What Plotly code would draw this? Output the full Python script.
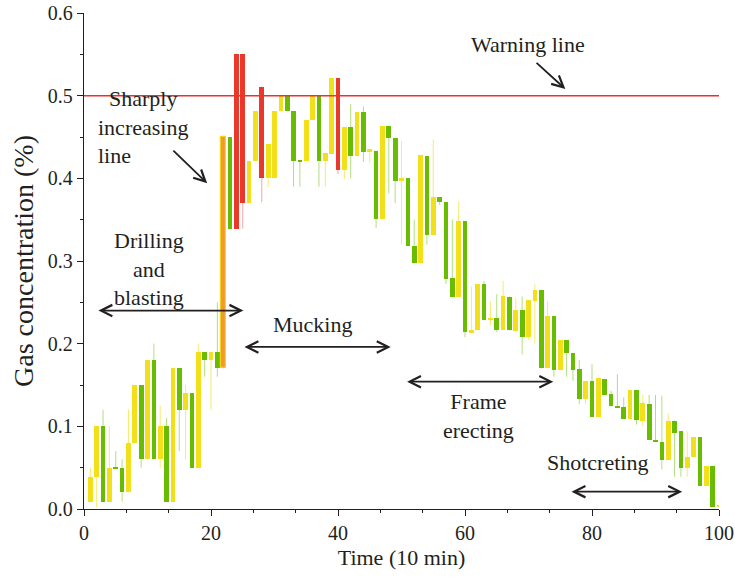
import plotly.graph_objects as go

# Time axis: one candle per 10-minute interval
time = list(range(1, 101))

# Gas concentration (%) per interval: open, close, high, low
open_ = [0.009, 0.039, 0.100, 0.009, 0.050, 0.050, 0.020, 0.080, 0.150, 0.060,
         0.180, 0.060, 0.100, 0.009, 0.170, 0.120, 0.140, 0.050, 0.190, 0.180,
         0.190, 0.170, 0.450, 0.339, 0.551, 0.370, 0.421, 0.511, 0.400, 0.400,
         0.481, 0.499, 0.481, 0.422, 0.421, 0.471, 0.499, 0.421, 0.430, 0.521,
         0.410, 0.462, 0.427, 0.480, 0.433, 0.433, 0.351, 0.463, 0.449, 0.397,
         0.400, 0.318, 0.297, 0.427, 0.331, 0.377, 0.371, 0.280, 0.257, 0.348,
         0.214, 0.216, 0.272, 0.229, 0.231, 0.217, 0.257, 0.215, 0.241, 0.208,
         0.252, 0.265, 0.170, 0.233, 0.168, 0.204, 0.189, 0.169, 0.133, 0.155,
         0.111, 0.157, 0.139, 0.125, 0.123, 0.109, 0.144, 0.107, 0.127, 0.084,
         0.081, 0.059, 0.107, 0.094, 0.049, 0.063, 0.087, 0.028, 0.052, 0.002]
close = [0.039, 0.100, 0.009, 0.050, 0.049, 0.020, 0.080, 0.150, 0.060, 0.180,
         0.060, 0.100, 0.009, 0.170, 0.120, 0.140, 0.050, 0.190, 0.180, 0.190,
         0.170, 0.450, 0.339, 0.551, 0.370, 0.421, 0.481, 0.400, 0.441, 0.481,
         0.499, 0.481, 0.421, 0.420, 0.471, 0.499, 0.421, 0.431, 0.521, 0.410,
         0.462, 0.427, 0.480, 0.432, 0.435, 0.351, 0.463, 0.449, 0.397, 0.400,
         0.318, 0.297, 0.428, 0.331, 0.378, 0.371, 0.278, 0.257, 0.348, 0.214,
         0.216, 0.272, 0.229, 0.231, 0.217, 0.258, 0.216, 0.241, 0.208, 0.253,
         0.265, 0.170, 0.233, 0.168, 0.204, 0.189, 0.168, 0.133, 0.155, 0.111,
         0.158, 0.138, 0.124, 0.123, 0.109, 0.144, 0.108, 0.128, 0.084, 0.081,
         0.059, 0.107, 0.092, 0.049, 0.063, 0.087, 0.028, 0.052, 0.002, 0.005]
high = [0.050, 0.100, 0.120, 0.100, 0.070, 0.060, 0.120, 0.150, 0.150, 0.180,
        0.200, 0.125, 0.110, 0.170, 0.170, 0.150, 0.140, 0.200, 0.190, 0.190,
        0.250, 0.450, 0.450, 0.551, 0.551, 0.421, 0.481, 0.511, 0.441, 0.481,
        0.499, 0.499, 0.481, 0.422, 0.471, 0.499, 0.499, 0.431, 0.521, 0.521,
        0.462, 0.490, 0.480, 0.487, 0.435, 0.433, 0.463, 0.463, 0.449, 0.445,
        0.400, 0.350, 0.428, 0.427, 0.447, 0.377, 0.371, 0.350, 0.372, 0.348,
        0.269, 0.272, 0.276, 0.251, 0.260, 0.276, 0.257, 0.255, 0.257, 0.253,
        0.272, 0.265, 0.251, 0.233, 0.204, 0.204, 0.189, 0.180, 0.155, 0.175,
        0.159, 0.157, 0.143, 0.163, 0.135, 0.144, 0.144, 0.138, 0.138, 0.138,
        0.137, 0.116, 0.107, 0.094, 0.094, 0.087, 0.087, 0.052, 0.052, 0.005]
low = [0.009, 0.002, 0.009, 0.009, 0.049, 0.009, 0.020, 0.080, 0.050, 0.060,
       0.060, 0.050, 0.009, 0.009, 0.070, 0.060, 0.050, 0.050, 0.160, 0.120,
       0.160, 0.170, 0.339, 0.339, 0.339, 0.370, 0.421, 0.371, 0.389, 0.400,
       0.481, 0.481, 0.390, 0.390, 0.421, 0.471, 0.390, 0.390, 0.430, 0.405,
       0.399, 0.400, 0.427, 0.420, 0.419, 0.340, 0.351, 0.382, 0.370, 0.320,
       0.318, 0.297, 0.297, 0.320, 0.331, 0.368, 0.272, 0.257, 0.257, 0.208,
       0.214, 0.216, 0.229, 0.222, 0.214, 0.217, 0.216, 0.215, 0.187, 0.205,
       0.200, 0.170, 0.170, 0.160, 0.168, 0.160, 0.155, 0.127, 0.127, 0.111,
       0.111, 0.138, 0.124, 0.123, 0.109, 0.109, 0.102, 0.100, 0.084, 0.081,
       0.048, 0.059, 0.039, 0.039, 0.039, 0.063, 0.028, 0.028, 0.002, 0.002]

# Intervals that broke through the warning level, and the sharp rise before them
over_limit = [24, 25, 28, 40]
sharp_rise = [22]
WARNING_LEVEL = 0.5

YELLOW, GREEN, RED, ORANGE = "#F2E01A", "#68BD00", "#E8392A", "#F29A2E"
WICK = {YELLOW: "rgba(242,224,26,0.65)", GREEN: "rgba(104,189,0,0.5)",
        RED: "rgba(232,57,42,0.45)", ORANGE: "rgba(242,154,46,0.6)"}

colors = []
for t, o, c in zip(time, open_, close):
    if t in over_limit:
        colors.append(RED)
    elif t in sharp_rise:
        colors.append(ORANGE)
    else:
        colors.append(YELLOW if c > o else GREEN)

fig = go.Figure()

# Wicks (high-low), grouped by colour
for col in [YELLOW, GREEN, RED, ORANGE]:
    wx, wy = [], []
    for t, h, l, cc in zip(time, high, low, colors):
        if cc == col:
            wx += [t, t, None]
            wy += [l, h, None]
    fig.add_trace(go.Scatter(x=wx, y=wy, mode="lines", hoverinfo="skip",
                             line=dict(color=WICK[col], width=1), showlegend=False))

# Candle bodies (open-close)
base = [min(o, c) for o, c in zip(open_, close)]
height = [max(abs(c - o), 0.002) for o, c in zip(open_, close)]
line_w = [1.2 if t in sharp_rise else 0 for t in time]
line_c = ["#F5D51C" if t in sharp_rise else "rgba(0,0,0,0)" for t in time]
fig.add_trace(go.Bar(x=time, y=height, base=base, width=0.74,
                     marker=dict(color=colors, line=dict(width=line_w, color=line_c)),
                     showlegend=False))

fig.add_hline(y=WARNING_LEVEL, line=dict(color="#E8322A", width=1.5))

FONT = "Liberation Serif"
INK = "#231F20"
ann_font = dict(family=FONT, size=22, color=INK)
arrow_kw = dict(showarrow=True, arrowcolor=INK, arrowwidth=1.8,
                arrowhead=5, arrowsize=1.25, xref="x", yref="y", axref="x", ayref="y")

annotations = [
    dict(x=69.9, y=0.562, text="Warning line", showarrow=False, font=ann_font),
    dict(x=75.8, y=0.508, ax=70.8, ay=0.543, **arrow_kw),
    dict(x=1.9, y=0.462, text="&nbsp;&nbsp;Sharply<br>increasing<br>line", showarrow=False,
         font=ann_font, align="left", xanchor="left"),
    dict(x=19.4, y=0.394, ax=13.6, ay=0.437, **arrow_kw),
    dict(x=10.2, y=0.290, text="Drilling<br>and<br>blasting", showarrow=False,
         font=ann_font, align="center"),
    dict(x=36.0, y=0.223, text="Mucking", showarrow=False, font=ann_font),
    dict(x=62.1, y=0.113, text="Frame<br>erecting", showarrow=False, font=ann_font),
    dict(x=80.8, y=0.056, text="Shotcreting", showarrow=False, font=ann_font),
]
# Double-headed phase spans
for x0, x1, yv in [(1.8, 25.1, 0.240), (24.8, 48.3, 0.196),
                   (50.4, 73.9, 0.154), (76.3, 94.2, 0.021)]:
    annotations.append(dict(x=x1, y=yv, ax=x0, ay=yv, arrowside="end+start", **arrow_kw))

axis_common = dict(showline=True, linecolor=INK, linewidth=1.3, ticks="outside",
                   ticklen=6, tickwidth=1.3, tickcolor=INK, showgrid=False,
                   zeroline=False, automargin=False,
                   tickfont=dict(family=FONT, size=20, color=INK))

fig.update_layout(
    width=735, height=578,
    margin=dict(l=84, r=16, t=13, b=69),
    plot_bgcolor="white", paper_bgcolor="white",
    barmode="overlay", bargap=0,
    annotations=annotations,
    xaxis=dict(range=[0, 100], tick0=0, dtick=20,
               minor=dict(dtick=20 / 3, ticklen=3, tickwidth=1.2, tickcolor=INK, ticks="outside"),
               title=dict(text="Time (10 min)", font=dict(family=FONT, size=22, color=INK),
                          standoff=6),
               **axis_common),
    yaxis=dict(range=[0, 0.6], tick0=0, dtick=0.1, tickformat=".1f",
               minor=dict(dtick=0.05, ticklen=3, tickwidth=1.2, tickcolor=INK, ticks="outside"),
               title=dict(text="Gas concentration (%)", font=dict(family=FONT, size=28, color=INK),
                          standoff=6),
               **axis_common),
)

fig.write_html("out.html")
